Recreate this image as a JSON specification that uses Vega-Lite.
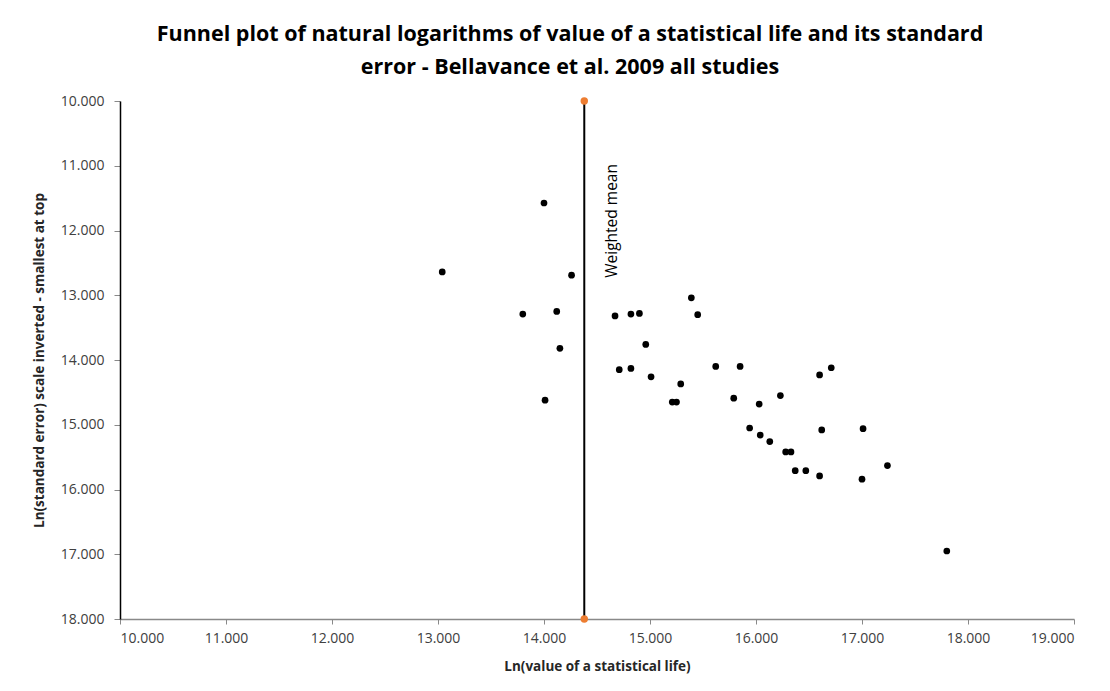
{
  "$schema": "https://vega.github.io/schema/vega-lite/v6.json",
  "width": 954,
  "height": 518,
  "autosize": {"type": "none"},
  "padding": {"left": 120, "top": 101, "right": 36, "bottom": 72},
  "background": "white",
  "config": {
    "view": {"stroke": null},
    "font": "Open Sans"
  },
  "title": {
    "text": ["Funnel plot of natural logarithms of value of a statistical life and its standard", "error - Bellavance et al. 2009 all studies"],
    "font": "Open Sans",
    "fontSize": 21.5,
    "fontWeight": "bold",
    "color": "#000000",
    "anchor": "middle",
    "frame": "group",
    "dx": -27,
    "lineHeight": 33,
    "offset": 16
  },
  "datasets": {
    "studies": [
      {"lnVSL": 14.00, "lnSE": 11.575},
      {"lnVSL": 13.04, "lnSE": 12.64},
      {"lnVSL": 14.26, "lnSE": 12.69},
      {"lnVSL": 13.80, "lnSE": 13.29},
      {"lnVSL": 14.12, "lnSE": 13.25},
      {"lnVSL": 14.15, "lnSE": 13.82},
      {"lnVSL": 14.01, "lnSE": 14.62},
      {"lnVSL": 14.67, "lnSE": 13.32},
      {"lnVSL": 14.82, "lnSE": 13.29},
      {"lnVSL": 14.90, "lnSE": 13.28},
      {"lnVSL": 15.39, "lnSE": 13.04},
      {"lnVSL": 15.45, "lnSE": 13.30},
      {"lnVSL": 14.96, "lnSE": 13.76},
      {"lnVSL": 14.71, "lnSE": 14.15},
      {"lnVSL": 14.82, "lnSE": 14.13},
      {"lnVSL": 15.01, "lnSE": 14.26},
      {"lnVSL": 15.29, "lnSE": 14.37},
      {"lnVSL": 15.21, "lnSE": 14.65},
      {"lnVSL": 15.25, "lnSE": 14.65},
      {"lnVSL": 15.62, "lnSE": 14.10},
      {"lnVSL": 15.85, "lnSE": 14.10},
      {"lnVSL": 15.79, "lnSE": 14.59},
      {"lnVSL": 16.03, "lnSE": 14.68},
      {"lnVSL": 16.23, "lnSE": 14.55},
      {"lnVSL": 15.94, "lnSE": 15.05},
      {"lnVSL": 16.04, "lnSE": 15.16},
      {"lnVSL": 16.13, "lnSE": 15.26},
      {"lnVSL": 16.28, "lnSE": 15.42},
      {"lnVSL": 16.33, "lnSE": 15.42},
      {"lnVSL": 16.62, "lnSE": 15.08},
      {"lnVSL": 17.01, "lnSE": 15.06},
      {"lnVSL": 16.37, "lnSE": 15.71},
      {"lnVSL": 16.47, "lnSE": 15.71},
      {"lnVSL": 16.60, "lnSE": 15.79},
      {"lnVSL": 17.00, "lnSE": 15.84},
      {"lnVSL": 17.24, "lnSE": 15.63},
      {"lnVSL": 17.80, "lnSE": 16.95},
      {"lnVSL": 16.60, "lnSE": 14.23},
      {"lnVSL": 16.71, "lnSE": 14.12}
    ],
    "meanLine": [
      {"lnVSL": 14.38, "top": 10, "bottom": 18}
    ],
    "meanEnds": [
      {"lnVSL": 14.38, "lnSE": 10},
      {"lnVSL": 14.38, "lnSE": 18}
    ],
    "meanLabel": [
      {"lnVSL": 14.38, "lnSE": 12.73, "label": "Weighted mean"}
    ]
  },
  "layer": [
    {
      "data": {"name": "meanLine"},
      "mark": {"type": "rule", "color": "#000000", "strokeWidth": 2},
      "encoding": {
        "x": {
          "field": "lnVSL", "type": "quantitative",
          "scale": {"domain": [10, 19], "nice": false, "zero": false},
          "axis": {
            "title": "Ln(value of a statistical life)",
            "values": [10, 11, 12, 13, 14, 15, 16, 17, 18, 19],
            "format": ".3f",
            "grid": false,
            "domainColor": "#898989",
            "domainWidth": 1.5,
            "tickColor": "#898989",
            "tickSize": 5,
            "labelFont": "Open Sans",
            "labelFontSize": 14,
            "labelColor": "#404040",
            "labelPadding": 7,
            "titleFont": "Open Sans",
            "titleFontSize": 13.5,
            "titleFontWeight": "bold",
            "titleColor": "#262626",
            "titlePadding": 14
          }
        },
        "y": {
          "field": "top", "type": "quantitative",
          "scale": {"domain": [10, 18], "nice": false, "zero": false, "reverse": true},
          "axis": {
            "title": "Ln(standard error) scale inverted - smallest at top",
            "values": [10, 11, 12, 13, 14, 15, 16, 17, 18],
            "format": ".3f",
            "grid": false,
            "domainColor": "#000000",
            "domainWidth": 1.5,
            "tickColor": "#898989",
            "tickSize": 6,
            "labelFont": "Open Sans",
            "labelFontSize": 14,
            "labelColor": "#404040",
            "labelPadding": 10,
            "titleFont": "Open Sans",
            "titleFontSize": 13.5,
            "titleFontWeight": "bold",
            "titleColor": "#262626",
            "titlePadding": 14
          }
        },
        "y2": {"field": "bottom"}
      }
    },
    {
      "data": {"name": "studies"},
      "mark": {"type": "point", "filled": true, "shape": "circle", "size": 45, "color": "#000000", "opacity": 1},
      "encoding": {
        "x": {"field": "lnVSL", "type": "quantitative"},
        "y": {"field": "lnSE", "type": "quantitative"}
      }
    },
    {
      "data": {"name": "meanEnds"},
      "mark": {"type": "point", "filled": true, "shape": "circle", "size": 55, "color": "#ED7D31", "opacity": 1},
      "encoding": {
        "x": {"field": "lnVSL", "type": "quantitative"},
        "y": {"field": "lnSE", "type": "quantitative"}
      }
    },
    {
      "data": {"name": "meanLabel"},
      "mark": {"type": "text", "angle": 270, "align": "left", "baseline": "middle", "dy": 28, "font": "Open Sans", "fontSize": 15.5, "color": "#000000"},
      "encoding": {
        "x": {"field": "lnVSL", "type": "quantitative"},
        "y": {"field": "lnSE", "type": "quantitative"},
        "text": {"field": "label"}
      }
    }
  ]
}
